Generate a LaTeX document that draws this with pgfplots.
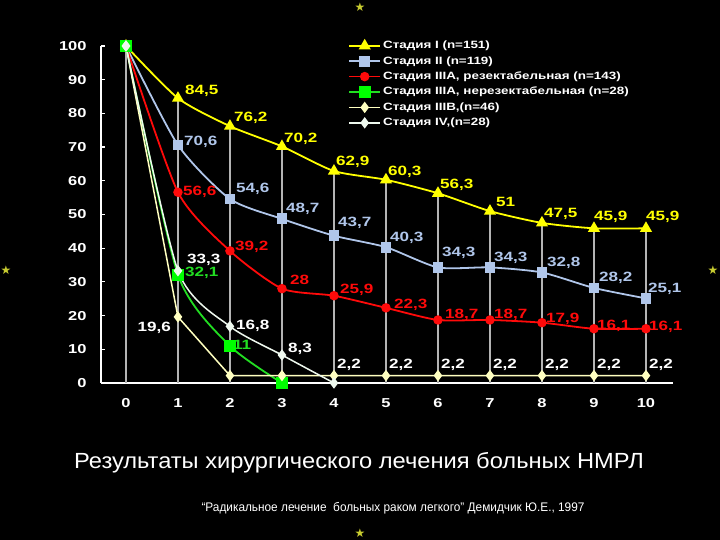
\documentclass[border=0pt]{standalone}
\usepackage{fontspec}
\setmainfont{Liberation Sans}
\newfontfamily\wb[FakeStretch=1.27]{Liberation Sans}
\newfontfamily\titf[FakeStretch=1.08]{Liberation Sans}
\newfontfamily\subf[FakeStretch=0.95]{Liberation Sans}
\newfontfamily\djv{DejaVu Sans}
\usepackage{pgfplots}
\pgfplotsset{compat=1.18}
\usepackage{pgfplotstable}

\definecolor{cI}{HTML}{FFFF00}
\definecolor{cII}{HTML}{B0C6EA}
\definecolor{cIIIr}{HTML}{FF0A0A}
\definecolor{cIIIn}{HTML}{22DD22}
\definecolor{cIIIB}{HTML}{FFFFC0}
\definecolor{cIV}{HTML}{EEF8EE}
\definecolor{starc}{HTML}{C8CC30}
\definecolor{dropc}{HTML}{B4B4B4}

\pgfplotstableread{
x I II IIIAr
0 100 100 100
1 84.5 70.6 56.6
2 76.2 54.6 39.2
3 70.2 48.7 28
4 62.9 43.7 25.9
5 60.3 40.3 22.3
6 56.3 34.3 18.7
7 51 34.3 18.7
8 47.5 32.8 17.9
9 45.9 28.2 16.1
10 45.9 25.1 16.1
}\tabA
\pgfplotstableread{
x y
0 100
1 32.1
2 11
3 0
}\tabG
\pgfplotstableread{
x y
0 100
1 19.6
2 2.2
3 2.2
4 2.2
5 2.2
6 2.2
7 2.2
8 2.2
9 2.2
10 2.2
}\tabB
\pgfplotstableread{
x y
0 100
1 33.3
2 16.8
3 8.3
4 0
}\tabIV

\newcommand\lab[6]{\node[anchor=#5,text=#4,inner sep=0pt,#6] at (axis cs:#1,#2) {#3};}

\begin{document}
\begin{tikzpicture}[x=1bp,y=1bp]
\useasboundingbox (0,0) rectangle (720,540);
\fill[black] (0,0) rectangle (720,540);
\begin{axis}[
  at={(101bp,157bp)}, anchor=south west,
  scale only axis, width=572bp, height=337bp,
  xmin=-0.48, xmax=10.52, ymin=0, ymax=100,
  axis x line=bottom, axis y line=left,
  axis line style={white, line width=1.5bp, -},
  xtick={0,...,10}, ytick={0,10,...,100},
  tick align=inside, major tick length=4bp,
  ytick style={white, line width=1.2bp},
  xtick style={draw=none},
  ticklabel style={text=white, font=\wb\bfseries\fontsize{13}{13}\selectfont},
  /pgf/number format/assume math mode=true,
  yticklabel style={xshift=-11bp},
  xticklabel style={yshift=-12bp},
  clip=false,
  legend cell align=left,
  legend image code/.code={\draw[mark repeat=2,mark phase=2,#1] plot coordinates {(0bp,0bp) (15.5bp,0bp) (31bp,0bp)};},
  legend style={at={(rel axis cs:0.432,1.024)}, anchor=north west, draw=none, fill=none,
    text=white, font=\wb\bfseries\fontsize{10.6}{10.6}\selectfont, inner sep=0pt, row sep=0pt,
    nodes={inner ysep=2.7bp, inner xsep=2bp, text height=8bp, text depth=2bp}},
]
\addplot[ycomb, draw=dropc, line width=1.1bp, forget plot] table[x=x,y=I]{\tabA};
\addplot[cI, line width=1.8bp, smooth, tension=0.4, mark=triangle*, mark size=5.2bp, mark options={fill=cI, draw=cI}] table[x=x,y=I]{\tabA};
\addlegendentry{Стадия I (n=151)}
\addplot[cII, line width=1.8bp, smooth, tension=0.4, mark=square*, mark size=4.5bp, mark options={fill=cII, draw=cII}] table[x=x,y=II]{\tabA};
\addlegendentry{Стадия II (n=119)}
\addplot[cIIIr, line width=1.8bp, smooth, tension=0.4, mark=*, mark size=3.8bp, mark options={fill=cIIIr, draw=cIIIr}] table[x=x,y=IIIAr]{\tabA};
\addlegendentry{Стадия IIIA, резектабельная (n=143)}
\addplot[cIIIn, line width=1.8bp, smooth, tension=0.4, mark=square*, mark size=5bp, mark options={fill=green, draw=green}] table[x=x,y=y]{\tabG};
\addlegendentry{Стадия IIIA, нерезектабельная (n=28)}
\addplot[cIIIB, line width=1.5bp, mark=diamond*, mark size=4.5bp, mark options={fill=cIIIB, draw=cIIIB}] table[x=x,y=y]{\tabB};
\addlegendentry{Стадия IIIB,(n=46)}
\addplot[cIV, line width=1.5bp, smooth, tension=0.4, mark=diamond*, mark size=4.5bp, mark options={fill=cIV, draw=cIV}] table[x=x,y=y]{\tabIV};
\addlegendentry{Стадия IV,(n=28)}

\begin{scope}[font=\wb\bfseries\fontsize{13.5}{13.5}\selectfont]
% Stage I
\lab{1}{84.5}{84,5}{cI}{west}{xshift=7bp,yshift=7bp}
\lab{2}{76.2}{76,2}{cI}{west}{xshift=4bp,yshift=8bp}
\lab{3}{70.2}{70,2}{cI}{west}{xshift=2bp,yshift=8bp}
\lab{4}{62.9}{62,9}{cI}{west}{xshift=2bp,yshift=9bp}
\lab{5}{60.3}{60,3}{cI}{west}{xshift=2bp,yshift=8bp}
\lab{6}{56.3}{56,3}{cI}{west}{xshift=2bp,yshift=8bp}
\lab{7}{51}{51}{cI}{west}{xshift=6bp,yshift=9bp}
\lab{8}{47.5}{47,5}{cI}{west}{xshift=2bp,yshift=9bp}
\lab{9}{45.9}{45,9}{cI}{west}{xshift=0bp,yshift=11bp}
\lab{10}{45.9}{45,9}{cI}{west}{xshift=0bp,yshift=11bp}
% Stage II
\lab{1}{70.6}{70,6}{cII}{west}{xshift=6bp,yshift=3bp}
\lab{2}{54.6}{54,6}{cII}{west}{xshift=6bp,yshift=10bp}
\lab{3}{48.7}{48,7}{cII}{west}{xshift=4bp,yshift=10bp}
\lab{4}{43.7}{43,7}{cII}{west}{xshift=4bp,yshift=13bp}
\lab{5}{40.3}{40,3}{cII}{west}{xshift=4bp,yshift=9bp}
\lab{6}{34.3}{34,3}{cII}{west}{xshift=4bp,yshift=15bp}
\lab{7}{34.3}{34,3}{cII}{west}{xshift=4bp,yshift=10bp}
\lab{8}{32.8}{32,8}{cII}{west}{xshift=5bp,yshift=10bp}
\lab{9}{28.2}{28,2}{cII}{west}{xshift=5bp,yshift=10bp}
\lab{10}{25.1}{25,1}{cII}{west}{xshift=2bp,yshift=10bp}
% Stage IIIA resectable
\lab{1}{56.6}{56,6}{cIIIr}{west}{xshift=5bp,yshift=0bp}
\lab{2}{39.2}{39,2}{cIIIr}{west}{xshift=5bp,yshift=4bp}
\lab{3}{28}{28}{cIIIr}{west}{xshift=8bp,yshift=9bp}
\lab{4}{25.9}{25,9}{cIIIr}{west}{xshift=6bp,yshift=6bp}
\lab{5}{22.3}{22,3}{cIIIr}{west}{xshift=8bp,yshift=3bp}
\lab{6}{18.7}{18,7}{cIIIr}{west}{xshift=7bp,yshift=5bp}
\lab{7}{18.7}{18,7}{cIIIr}{west}{xshift=4bp,yshift=5bp}
\lab{8}{17.9}{17,9}{cIIIr}{west}{xshift=4bp,yshift=4bp}
\lab{9}{16.1}{16,1}{cIIIr}{west}{xshift=3bp,yshift=3bp}
\lab{10}{16.1}{16,1}{cIIIr}{west}{xshift=3bp,yshift=2bp}
% Stage IIIA non-resectable
\lab{1}{32.1}{32,1}{cIIIn}{west}{xshift=7bp,yshift=2bp}
\lab{2}{11}{11}{cIIIn}{west}{xshift=3bp,yshift=1bp}
% Stage IV
\lab{1}{33.3}{33,3}{white}{west}{xshift=9bp,yshift=11bp}
\lab{2}{16.8}{16,8}{white}{west}{xshift=6bp,yshift=1bp}
\lab{3}{8.3}{8,3}{white}{west}{xshift=6bp,yshift=6bp}
% Stage IIIB
\lab{1}{19.6}{19,6}{white}{east}{xshift=-7bp,yshift=-11bp}
\lab{4}{2.2}{2,2}{white}{west}{xshift=3bp,yshift=11bp}
\lab{5}{2.2}{2,2}{white}{west}{xshift=3bp,yshift=11bp}
\lab{6}{2.2}{2,2}{white}{west}{xshift=3bp,yshift=11bp}
\lab{7}{2.2}{2,2}{white}{west}{xshift=3bp,yshift=11bp}
\lab{8}{2.2}{2,2}{white}{west}{xshift=3bp,yshift=11bp}
\lab{9}{2.2}{2,2}{white}{west}{xshift=3bp,yshift=11bp}
\lab{10}{2.2}{2,2}{white}{west}{xshift=3bp,yshift=11bp}
\end{scope}
\end{axis}
\node[text=white, font=\titf\fontsize{22}{22}\selectfont, inner sep=0pt] at (359,77) {Результаты хирургического лечения больных НМРЛ};
\node[text=white, font=\subf\fontsize{12.5}{12.5}\selectfont, inner sep=0pt] at (393,32) {“Радикальное лечение\ \ больных раком легкого” Демидчик Ю.Е., 1997};
\foreach \p in {(360,533),(360,7),(6,270),(713,270)}
  \node[text=starc, font=\djv\fontsize{12}{12}\selectfont, inner sep=0pt] at \p {★};
\end{tikzpicture}
\end{document}
